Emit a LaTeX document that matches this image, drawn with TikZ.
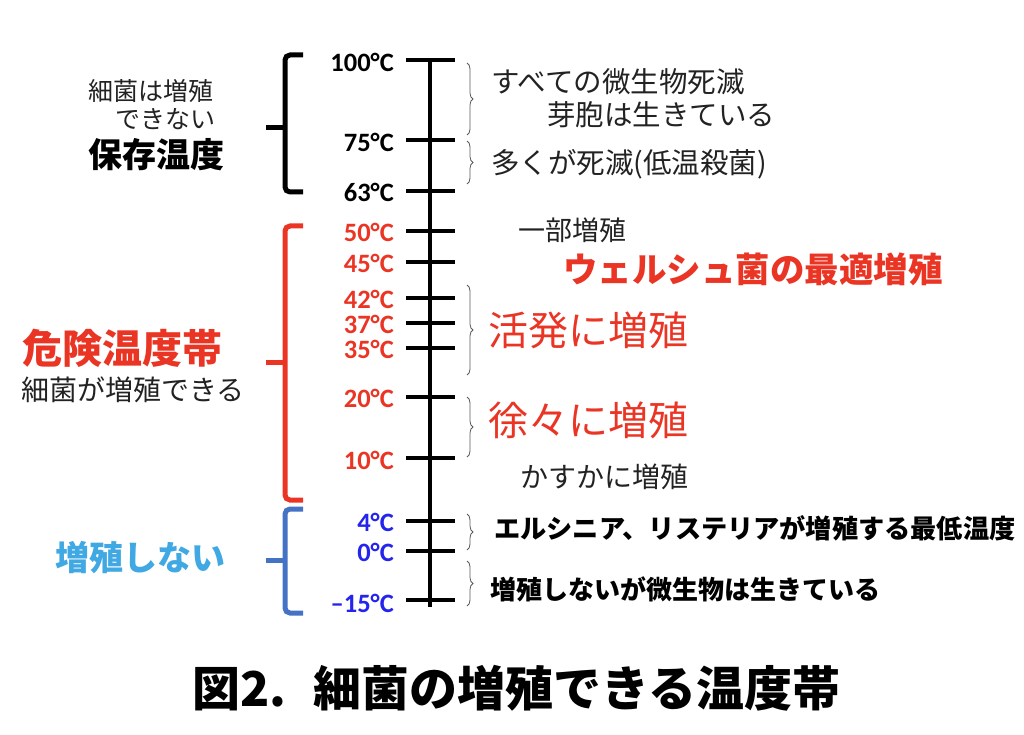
\documentclass[tikz,border=0pt]{standalone}
\usepackage{fontspec}
\newfontfamily\jp{Noto Sans CJK JP}
\newfontfamily\lat{Carlito}
\usetikzlibrary{decorations.pathreplacing}
\definecolor{myred}{RGB}{234,53,37}
\definecolor{myblue}{RGB}{36,36,236}
\definecolor{lightblue}{RGB}{64,168,226}
\definecolor{brblue}{RGB}{68,114,196}
\definecolor{txtgray}{RGB}{34,34,34}
\begin{document}
\begin{tikzpicture}[x=1pt,y=-1pt,
  jt/.style={inner sep=0pt, anchor=west, text=txtgray, font=\jp\fontsize{#1pt}{#1pt}\selectfont},
  jb/.style={inner sep=0pt, anchor=west, font=\jp\bfseries\fontsize{#1pt}{#1pt}\selectfont},
  deg/.style={inner sep=0pt, anchor=east, font=\lat\bfseries\fontsize{26.5pt}{26.5pt}\selectfont},
  tick/.style={line width=3.6pt},
  axis/.style={line width=3.4pt},
  bracket/.style={line width=5pt, rounded corners=5pt},
  stub/.style={line width=5pt},
  thinbrace/.style={decorate, decoration={brace, amplitude=6pt}, draw=black!65, line width=0.8pt}
]
\useasboundingbox (0,0) rectangle (1024,735);

% axis
\coordinate (atop) at (430,59);
\coordinate (abot) at (430,607);
\draw[axis] (atop) -- (abot);

% ticks
\foreach \n/\y in {k100/60,k75/140,k63/191,k50/231,k45/262,k42/298,k37/323,k35/348,k20/397,k10/458,k4/521,k0/551,km15/600}{
  \coordinate (\n) at (430,\y);
  \draw[tick] ([xshift=-24pt]\n) -- ([xshift=25pt]\n);
}

% temperature labels
\node[deg] (l100) at (394,62) {100°C};
\node[deg] (l75)  at (394,142) {75°C};
\node[deg] (l63)  at (394,192) {63°C};
\node[deg,text=myred] (l50) at (394,232) {50°C};
\node[deg,text=myred] (l45) at (394,263) {45°C};
\node[deg,text=myred] (l42) at (394,299) {42°C};
\node[deg,text=myred] (l37) at (394,324) {37°C};
\node[deg,text=myred] (l35) at (394,349) {35°C};
\node[deg,text=myred] (l20) at (394,398) {20°C};
\node[deg,text=myred] (l10) at (394,460) {10°C};
\node[deg,text=myblue] (l4) at (394,522) {4°C};
\node[deg,text=myblue] (l0) at (394,552) {0°C};
\node[deg,text=myblue] (lm15) at (394,603) {–15°C};

% big brackets
\coordinate (m1) at (285,128);
\coordinate (m2) at (285,362);
\coordinate (m3) at (285,560);
\draw[bracket] (303,55) -- (285,55) -- (285,192) -- (303,192);
\draw[stub] (m1) -- ++(-19,0);
\draw[bracket,draw=myred] (303,226) -- (285,226) -- (285,500) -- (303,500);
\draw[stub,draw=myred] (m2) -- ++(-19,0);
\draw[bracket,draw=brblue] (303,509) -- (285,509) -- (285,613) -- (303,613);
\draw[stub,draw=brblue] (m3) -- ++(-19,0);

% thin braces
\coordinate (b1t) at (467,63);  \coordinate (b1b) at (467,135);
\coordinate (b2t) at (467,141); \coordinate (b2b) at (467,184);
\coordinate (b3t) at (467,285); \coordinate (b3b) at (467,375);
\coordinate (b4t) at (467,397); \coordinate (b4b) at (467,457);
\coordinate (b5t) at (467,514); \coordinate (b5b) at (467,550);
\coordinate (b6t) at (467,561); \coordinate (b6b) at (467,606);
\foreach \a/\b in {b1t/b1b,b2t/b2b,b3t/b3b,b4t/b4b,b5t/b5b,b6t/b6b}
  \draw[thinbrace] (\a) -- (\b);

% left texts
\node[jt=25] (c1) at (88,91) {細菌は増殖};
\node[jt=25] (c2) at (115,119) {できない};
\node[jb=34] (c3) at (88,155) {保存温度};
\node[jb=40,text=myred] (d1) at (22,348) {危険温度帯};
\node[jt=28] (d2) at (21,390) {細菌が増殖できる};
\node[jb=34,text=lightblue] (n1) at (55,558) {増殖しない};

% right texts
\node[jt=28.5] (r1) at (491,82) {すべての微生物死滅};
\node[jt=28.5] (r2) at (547,115) {芽胞は生きている};
\node[jt=28.5] (r3) at (491,164) {多くが死滅(低温殺菌)};
\node[jt=27] (r4) at (518,230) {一部増殖};
\node[jb=34.5,text=myred] (r5) at (563,269) {ウェルシュ菌の最適増殖};
\node[jt=40,text=myred] (r6) at (488,330) {活発に増殖};
\node[jt=40,text=myred] (r7) at (488,420) {徐々に増殖};
\node[jt=28] (r8) at (520,477) {かすかに増殖};
\node[jb=26.2,text=black] (r9) at (494,528) {エルシニア、リステリアが増殖する最低温度};
\node[jb=26,text=black] (r10) at (490,589) {増殖しないが微生物は生きている};

% title
\node[jb=48,text=black] (title) at (192,688) {図2.\hspace{27pt}細菌の増殖できる温度帯};
\end{tikzpicture}
\end{document}
